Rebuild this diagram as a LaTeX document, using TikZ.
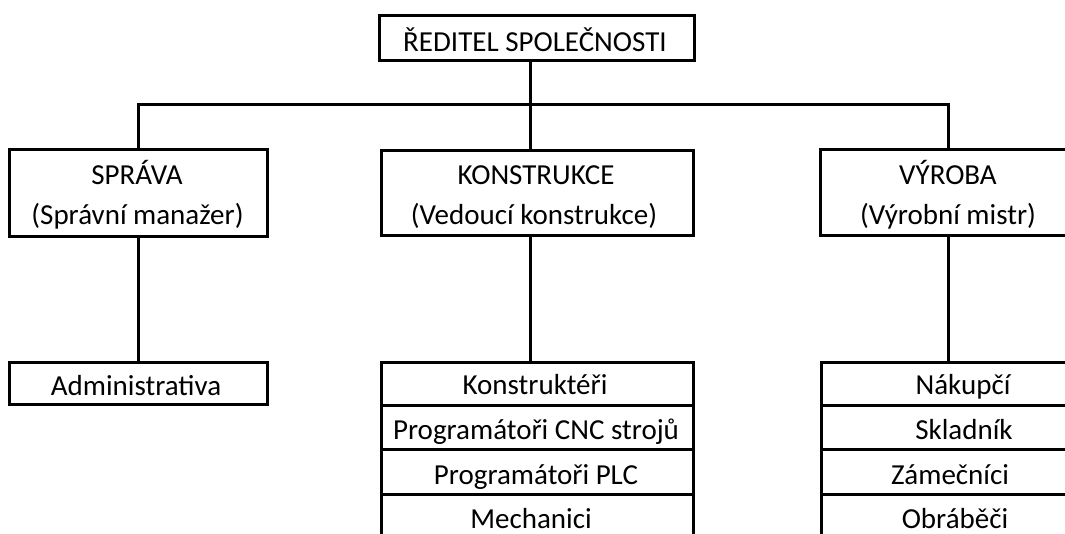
\documentclass[tikz,border=0pt]{standalone}
\usepackage{fontspec}
\setmainfont{Carlito}
\usetikzlibrary{fit}
\begin{document}
\begin{tikzpicture}[x=0.75pt,y=-0.75pt,
  box/.style={draw, line width=2.25pt, inner sep=0pt, rectangle},
  lbl/.style={anchor=base, inner sep=0pt, font=\fontsize{21.75}{30}\selectfont},
  conn/.style={line width=2.25pt}]
\clip (0,0) rectangle (1065,534);
% boxes
\node[box, fit={(379,16) (694,61)}] (red) {};
\node[box, fit={(9,150) (267,237)}] (spr) {};
\node[box, fit={(381,151) (693,236)}] (kon) {};
\node[box, fit={(820,150) (1076,236)}] (vyr) {};
\node[box, fit={(9,363) (267,405)}] (adm) {};
\node[box, fit={(381,363) (693,406)}] (k1) {};
\node[box, fit={(381,406) (693,450)}] (k2) {};
\node[box, fit={(381,450) (693,495)}] (k3) {};
\node[box, fit={(381,495) (693,540)}] (k4) {};
\node[box, fit={(821,363) (1106,406)}] (v1) {};
\node[box, fit={(821,406) (1106,450)}] (v2) {};
\node[box, fit={(821,450) (1106,495)}] (v3) {};
\node[box, fit={(821,495) (1106,540)}] (v4) {};
% labels
\node[lbl] (tred) at (535,52) {ŘEDITEL SPOLEČNOSTI};
\node[lbl] (tspr1) at (137,185) {SPRÁVA};
\node[lbl] (tspr2) at (137.5,225) {(Správní manažer)};
\node[lbl] (tkon1) at (536,185) {KONSTRUKCE};
\node[lbl] (tkon2) at (534,225) {(Vedoucí konstrukce)};
\node[lbl] (tvyr1) at (948,185) {VÝROBA};
\node[lbl] (tvyr2) at (948,225) {(Výrobní mistr)};
\node[lbl] (tadm) at (136,396) {Administrativa};
\node[lbl] (tk1) at (535,395) {Konstruktéři};
\node[lbl] (tk2) at (536,440) {Programátoři CNC strojů};
\node[lbl] (tk3) at (536,485) {Programátoři PLC};
\node[lbl] (tk4) at (531,529) {Mechanici};
\node[lbl] (tv1) at (963,395) {Nákupčí};
\node[lbl] (tv2) at (964,440) {Skladník};
\node[lbl] (tv3) at (950,485) {Zámečníci};
\node[lbl] (tv4) at (955,529) {Obráběči};
% connectors
\coordinate (bus) at (530,105);
\draw[conn] (red.south -| bus) -- (bus);
\draw[conn] (spr.north) |- (bus) -| (vyr.north);
\draw[conn] (bus) -- (kon.north -| bus);
\draw[conn] (spr.south) -- (adm.north);
\draw[conn] (kon.south -| bus) -- (k1.north -| bus);
\draw[conn] (vyr.south) -- (v1.north -| vyr.south);
\end{tikzpicture}
\end{document}
